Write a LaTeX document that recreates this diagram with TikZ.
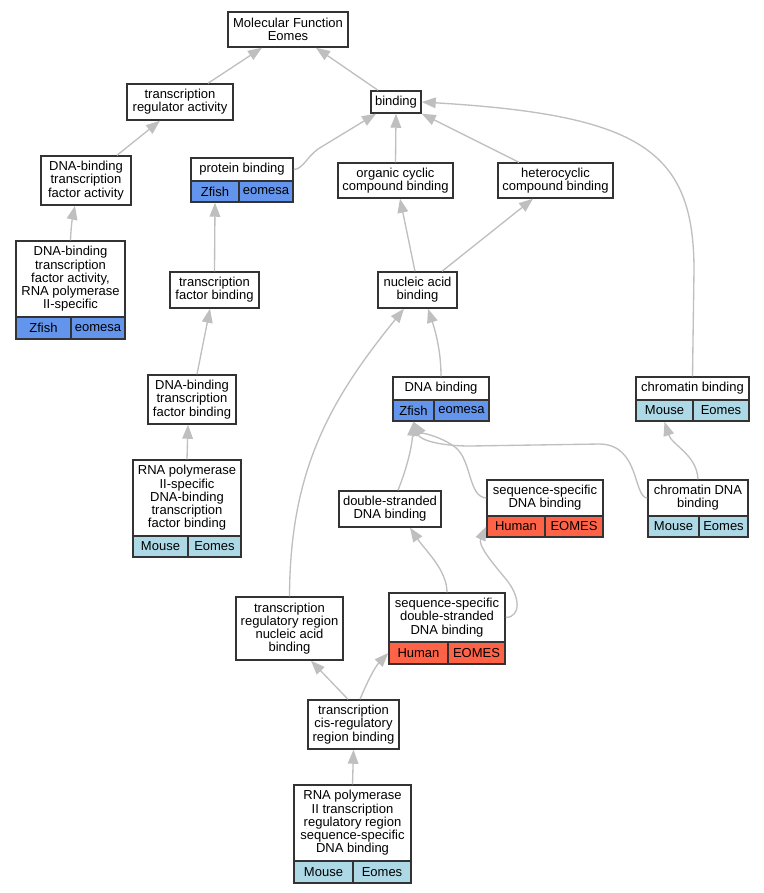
\documentclass[tikz,border=0pt]{standalone}
\usepackage{fontspec}
\setmainfont{Liberation Sans}
\usetikzlibrary{arrows.meta,calc}
\definecolor{zfishblue}{HTML}{6495ED}
\definecolor{mouseblue}{HTML}{ADD8E6}
\definecolor{humanred}{HTML}{FF6347}
\definecolor{isagray}{RGB}{191,191,191}
\tikzset{
  term/.style 2 args={draw=black!80, line width=1.1pt, fill=white, inner sep=0pt, align=center,
    font=\fontsize{9.75}{9.9}\selectfont, minimum width=#1*0.75pt, minimum height=#2*0.75pt},
  zfish/.style 2 args={term={#1}{#2}, fill=zfishblue},
  mouse/.style 2 args={term={#1}{#2}, fill=mouseblue},
  human/.style 2 args={term={#1}{#2}, fill=humanred},
  isa/.style={draw=isagray, line width=1pt, -{Triangle[length=10.5pt,width=8pt]}}
}
\begin{document}
\begin{tikzpicture}[x=0.75pt,y=-0.75pt]
\useasboundingbox (0,0) rectangle (764,893);
% terms
\node[term={120}{35}] (mf) at (288,29.5) {Molecular Function\\Eomes};
\node[term={106}{36}] (tra) at (180,102) {transcription\\regulator activity};
\node[term={50}{22}] (bind) at (396,102) {binding};
\node[term={90}{49}] (dtfa) at (86,180.5) {DNA-binding\\transcription\\factor activity};
\node[term={102}{23}] (prot) at (242,169.5) {protein binding};
\node[zfish={48}{21}] (protz) at (215,191.5) {Zfish};
\node[zfish={54}{21}] (prots) at (266,191.5) {eomesa};
\node[term={115}{35}] (occb) at (395.5,180.5) {organic cyclic\\compound binding};
\node[term={115}{35}] (hccb) at (555.5,180.5) {heterocyclic\\compound binding};
\node[term={109}{76}] (dtfap) at (70.5,279) {DNA-binding\\transcription\\factor activity,\\RNA polymerase\\II-specific};
\node[zfish={55}{22}] (dtfapz) at (43.5,328) {Zfish};
\node[zfish={54}{22}] (dtfaps) at (98,328) {eomesa};
\node[term={89}{36}] (tfb) at (214.5,290) {transcription\\factor binding};
\node[term={79}{36}] (nab) at (417.5,290) {nucleic acid\\binding};
\node[term={88}{49}] (dtfb) at (192,399.5) {DNA-binding\\transcription\\factor binding};
\node[term={96}{23}] (dnab) at (441,388.5) {DNA binding};
\node[zfish={41}{21}] (dnabz) at (413.5,410.5) {Zfish};
\node[zfish={55}{21}] (dnabs) at (461.5,410.5) {eomesa};
\node[term={113}{23}] (chb) at (692.5,388.5) {chromatin binding};
\node[mouse={57}{21}] (chbm) at (664.5,410.5) {Mouse};
\node[mouse={56}{21}] (chbs) at (721,410.5) {Eomes};
\node[term={108}{76}] (rdtfb) at (187,498) {RNA polymerase\\II-specific\\DNA-binding\\transcription\\factor binding};
\node[mouse={55}{21}] (rdtfbm) at (160.5,546.5) {Mouse};
\node[mouse={53}{21}] (rdtfbs) at (214.5,546.5) {Eomes};
\node[term={102}{36}] (dsdb) at (390,509) {double-stranded\\DNA binding};
\node[term={116}{36}] (ssdb) at (545,498) {sequence-specific\\DNA binding};
\node[human={58}{21}] (ssdbh) at (516,526.5) {Human};
\node[human={58}{21}] (ssdbs) at (574,526.5) {EOMES};
\node[term={100}{36}] (cdnab) at (698,498) {chromatin DNA\\binding};
\node[mouse={51}{21}] (cdnabm) at (673.5,526.5) {Mouse};
\node[mouse={49}{21}] (cdnabs) at (723.5,526.5) {Eomes};
\node[term={107}{63}] (trrnab) at (289.5,628.5) {transcription\\regulatory region\\nucleic acid\\binding};
\node[term={116}{49}] (ssdsdb) at (447,617.5) {sequence-specific\\double-stranded\\DNA binding};
\node[human={59}{22}] (ssdsdbh) at (418.5,653) {Human};
\node[human={57}{22}] (ssdsdbs) at (476.5,653) {EOMES};
\node[term={91}{49}] (tcrb) at (353.5,724.5) {transcription\\cis-regulatory\\region binding};
\node[term={117}{76}] (rnap2) at (352.5,823) {RNA polymerase\\II transcription\\regulatory region\\sequence-specific\\DNA binding};
\node[mouse={59}{22}] (rnap2m) at (323.5,872) {Mouse};
\node[mouse={58}{22}] (rnap2s) at (382,872) {Eomes};
% is_a links
\draw[isa] ($(tra.north)+(28,0)$) -- ($(mf.south)+(-26,0)$);
\draw[isa] ($(bind.north)+(-18,0)$) -- ($(mf.south)+(28,0)$);
\draw[isa] ($(dtfa.north)+(31,0)$) -- ($(tra.south)+(-20,0)$);
\draw[isa] (dtfap.north) .. controls (71,225) and (73,215) .. ($(dtfa.south)+(-11,0)$);
\draw[isa] (prot.east) .. controls (303,169) and (306,158) .. (318,149) -- ($(bind.south)+(-20,0)$);
\draw[isa] (occb.north) -- (bind.south);
\draw[isa] ($(hccb.north)+(-36.5,0)$) -- (bind.south east);
\draw[isa] (chb.north) -- (694,270) .. controls (694,150) and (640,115) .. (bind.east);
\draw[isa] (tfb.north) -- (protz.south);
\draw[isa] ($(nab.north)+(-2.5,0)$) -- ($(occb.south)+(4.5,0)$);
\draw[isa] ($(nab.north)+(24.5,0)$) -- ($(hccb.south)+(-22.5,0)$);
\draw[isa] ($(dtfb.north)+(5,0)$) -- ($(tfb.south)+(-4.5,0)$);
\draw[isa] (dnab.north) .. controls (441,350) and (435,330) .. ($(nab.south)+(10.5,0)$);
\draw[isa] (trrnab.north) .. controls (290,470) and (330,400) .. ($(nab.south)+(-13.5,0)$);
\draw[isa] (rdtfb.north) -- ($(dtfb.south)+(-4,0)$);
\draw[isa] (cdnab.north) .. controls (697,455) and (672,445) .. (chbm.south);
\draw[isa] ($(dsdb.north)+(8,0)$) .. controls (408,465) and (412,445) .. (dnabz.south);
\draw[isa] (ssdb.west) .. controls (468,497) and (472,460) .. (455,447) .. controls (440,436) and (420,432) .. (dnabz.south);
\draw[isa] (cdnab.west) .. controls (633,497) and (640,445) .. (600,444) -- (470,446) .. controls (440,446) and (420,440) .. (dnabz.south);
\draw[isa] (ssdsdb.north) .. controls (447,570) and (425,550) .. ($(dsdb.south)+(20,0)$);
\draw[isa] (ssdsdb.east) .. controls (522,617) and (520,595) .. (505,578) .. controls (490,560) and (478,545) .. (ssdbh.west);
\draw[isa] ($(tcrb.north)+(-5.5,0)$) -- ($(trrnab.south)+(21.5,0)$);
\draw[isa] ($(tcrb.north)+(6.5,0)$) .. controls (366,685) and (374,668) .. (ssdsdbh.west);
\draw[isa] (rnap2.north) -- (tcrb.south);
\end{tikzpicture}
\end{document}
